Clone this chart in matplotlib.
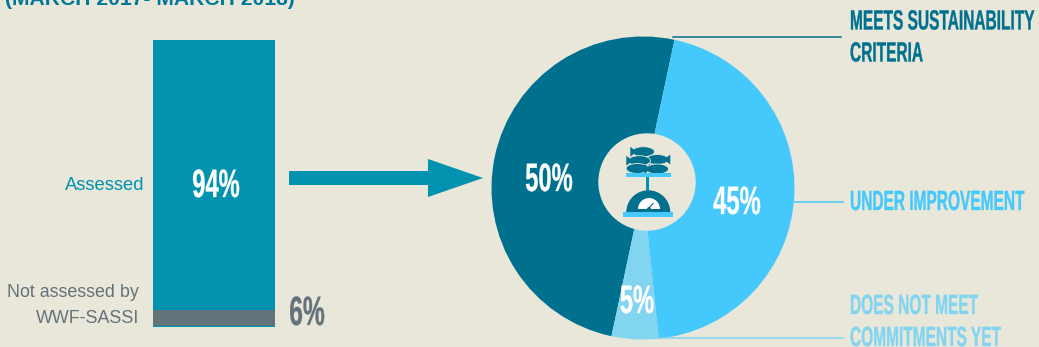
import matplotlib
matplotlib.use('Agg')
import matplotlib.pyplot as plt
from matplotlib.patches import Circle, Ellipse, Polygon, Rectangle, Wedge
from matplotlib.patheffects import AbstractPathEffect
from matplotlib.text import Text
from matplotlib.transforms import Affine2D, Bbox

W, H = 1039, 347
BG = '#e9e7d9'
TEAL = '#0092ae'
DARK = '#00708f'
LIGHT = '#45c8fb'
PALE = '#82d5f0'
GREY = '#64727a'

plt.rcParams['font.family'] = ['Liberation Sans', 'DejaVu Sans']

# values
bar_labels = ['Assessed', 'Not assessed by\nWWF-SASSI']
bar_values = [94, 6]
pie_labels = ['MEETS SUSTAINABILITY\nCRITERIA', 'DOES NOT MEET\nCOMMITMENTS YET', 'UNDER IMPROVEMENT']
pie_values = [50, 5, 45]
title = '(MARCH 2017- MARCH 2018)'


class Squeeze(AbstractPathEffect):
    # no condensed font is installed, so glyphs get narrowed around the anchor
    def __init__(self, x0, sx, weight=0.25):
        super().__init__()
        self.x0, self.sx, self.weight = x0, sx, weight

    def draw_path(self, renderer, gc, tpath, affine, rgbFace=None):
        squeeze = Affine2D().translate(-self.x0, 0).scale(self.sx, 1).translate(self.x0, 0)
        gc.set_linewidth(self.weight)
        gc.set_foreground(rgbFace)
        renderer.draw_path(gc, tpath, affine + squeeze, rgbFace)


class NarrowText(Text):
    def __init__(self, x, y, s, sx=0.55, weight=0.25, **kw):
        super().__init__(x, y, s, fontweight='bold', **kw)
        self.sx = sx
        self.set_path_effects([Squeeze(x, sx, weight)])

    def get_window_extent(self, renderer=None, dpi=None):
        bb = super().get_window_extent(renderer, dpi)
        x0 = self.get_position()[0]
        return Bbox.from_extents(x0 + (bb.x0 - x0) * self.sx, bb.y0, x0 + (bb.x1 - x0) * self.sx, bb.y1)


def axesAt(fig, x0, y0, x1, y1, **kw):
    # y given from the top of the figure, in pixels
    return fig.add_axes([x0 / W, 1 - y1 / H, (x1 - x0) / W, (y1 - y0) / H], **kw)


def drawFish(ax, x, y, flip=False, length=28, height=10):
    d = -1 if flip else 1
    ax.add_patch(Ellipse((x, y), length * 0.8, height, facecolor=DARK, edgecolor=BG, lw=0.6, zorder=6))
    tail_x = x - d * length * 0.32
    ax.add_patch(Polygon([(tail_x + d * 2, y), (tail_x - d * 4, y - 5), (tail_x - d * 4, y + 5)],
                         color=DARK, lw=0, zorder=6))


fig = plt.figure(figsize=(W / 100, H / 100), dpi=100, facecolor=BG)

# overlay in pixel coordinates for text, arrow, leaders and the icon
over = axesAt(fig, 0, 0, W, H, zorder=5)
over.set_xlim(0, W)
over.set_ylim(H, 0)
over.axis('off')

# stacked bar
ax_bar = axesAt(fig, 153, 40, 275, 327, zorder=1)
ax_bar.bar([0], [bar_values[1]], width=1, bottom=0, color=GREY)
ax_bar.bar([0], [bar_values[0]], width=1, bottom=bar_values[1], color=TEAL)
ax_bar.axhline(0, color=TEAL, lw=2.5)
ax_bar.set_xlim(-0.5, 0.5)
ax_bar.set_ylim(0, sum(bar_values))
ax_bar.axis('off')

# the dark slice starts near the top and runs counter-clockwise
ax_pie = axesAt(fig, 643 - 151.5, 188 - 151.5, 643 + 151.5, 188 + 151.5, zorder=1)
ax_pie.pie(pie_values, colors=[DARK, PALE, LIGHT], startangle=78, radius=1,
           wedgeprops={'linewidth': 0})
ax_pie.set_xlim(-1, 1)
ax_pie.set_ylim(-1, 1)

# title line, cut by the top edge
over.text(5, 5, title, color='#00789a', fontsize=15.2, fontweight='bold', ha='left', va='baseline')

# bar labels
over.text(144, 185, bar_labels[0], color=TEAL, fontsize=13.2, ha='right', va='center')
over.text(139, 305.5, bar_labels[1], color=GREY, fontsize=12.9, ha='right', va='center', linespacing=1.75)
over.add_artist(NarrowText(216, 186, f'{bar_values[0]}%', sx=0.6, color='white', fontsize=28.5,
                           ha='center', va='center'))
over.add_artist(NarrowText(307, 314, f'{bar_values[1]}%', sx=0.6, color=GREY, fontsize=29.5,
                           ha='center', va='center'))

# arrow between the two charts
over.add_patch(Polygon([(289, 171), (428, 171), (428, 159), (483, 178), (428, 197), (428, 185), (289, 185)],
                       color=TEAL, lw=0))

# slice values
over.add_artist(NarrowText(549, 180, f'{pie_values[0]}%', sx=0.6, color='white', fontsize=28.5,
                           ha='center', va='center'))
over.add_artist(NarrowText(737, 203, f'{pie_values[2]}%', sx=0.6, color='white', fontsize=28.5,
                           ha='center', va='center'))
over.add_artist(NarrowText(637, 302, f'{pie_values[1]}%', sx=0.6, color='white', fontsize=28.5,
                           ha='center', va='center'))

# leaders and category labels
over.plot([673, 841], [37, 37], color=DARK, lw=1.1)
over.plot([795, 843], [202, 202], color=LIGHT, lw=1.1)
over.plot([660, 843], [338, 338], color=PALE, lw=1.1)
over.add_artist(NarrowText(850, 38.5, pie_labels[0], sx=0.557, color=DARK, fontsize=20,
                           ha='left', va='center', linespacing=1.3))
over.add_artist(NarrowText(850, 203, pie_labels[2], sx=0.557, color=LIGHT, fontsize=20,
                           ha='left', va='center'))
over.add_artist(NarrowText(850, 323, pie_labels[1], sx=0.557, color=PALE, fontsize=20,
                           ha='left', va='center', linespacing=1.3))

# scale icon in the middle of the pie
over.add_patch(Circle((647, 182), 48.7, color=BG, lw=0, zorder=4))
over.add_patch(Rectangle((625.7, 172.7), 45, 4, color=LIGHT, lw=0, zorder=7))
over.add_patch(Rectangle((646, 176.7), 3.3, 14, color=TEAL, lw=0, zorder=6))
over.add_patch(Wedge((648.3, 212.3), 22, 180, 360, color=DARK, lw=0, zorder=6))
over.add_patch(Rectangle((623, 212.3), 49.7, 4.4, color=LIGHT, lw=0, zorder=7))
over.add_patch(Wedge((649, 209), 11, 180, 360, color='white', lw=0, zorder=7))
over.add_patch(Wedge((649, 209), 2, 180, 360, color=DARK, lw=0, zorder=8))
over.plot([649, 653], [208, 203.5], color=DARK, lw=0.8, zorder=8)
drawFish(over, 643.3, 151.7)
drawFish(over, 657.3, 159.5, flip=True)
drawFish(over, 639.3, 160.7)
drawFish(over, 637.3, 168.5, flip=True)
drawFish(over, 657.3, 169)

fig.savefig('out.png', dpi=100, facecolor=BG)
